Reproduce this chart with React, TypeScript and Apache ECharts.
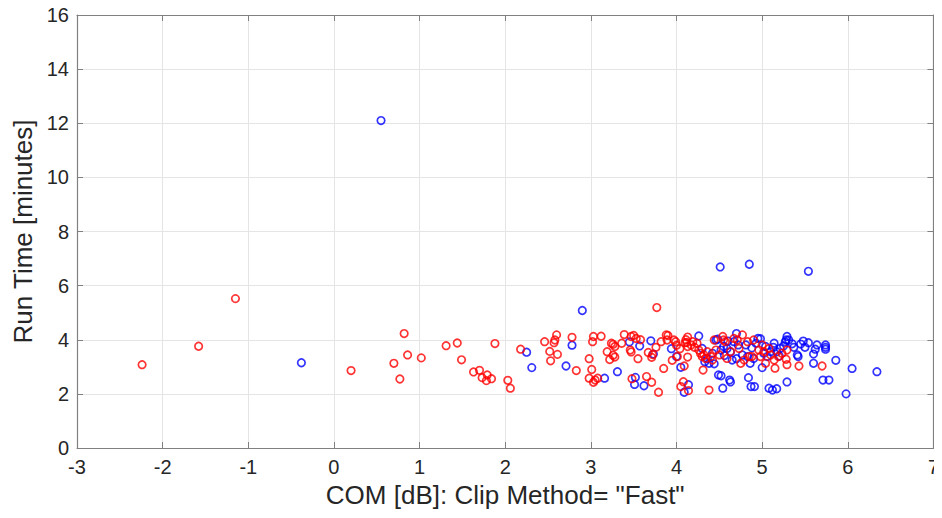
import React, { useEffect, useRef } from "react";
import * as echarts from "echarts";

const xTicks = [-3, -2, -1, 0, 1, 2, 3, 4, 5, 6, 7];
const yTicks = [0, 2, 4, 6, 8, 10, 12, 14, 16];

const bluePoints: [number, number][] = [
  [0.55, 12.1], [-0.38, 3.15],
  [3.94, 3.67], [4.0, 3.38], [4.26, 4.14], [4.3, 3.68], [4.33, 3.19], [4.38, 3.13], [4.44, 3.11],
  [4.46, 3.99], [4.48, 4.02], [4.52, 3.62], [4.55, 3.75], [4.59, 3.68], [4.63, 3.56], [4.65, 3.25],
  [4.67, 3.93], [4.7, 4.23], [4.72, 3.81], [4.77, 3.44], [4.81, 3.81], [4.83, 3.38], [4.86, 3.13],
  [4.9, 3.31], [4.93, 3.87], [4.95, 4.05], [4.98, 4.04], [5.0, 2.97], [5.04, 3.75], [5.06, 3.38],
  [5.1, 3.56], [5.13, 3.72], [5.14, 3.87], [5.17, 3.56], [5.21, 3.68], [5.25, 3.77], [5.27, 3.92],
  [5.28, 3.99], [5.29, 4.12], [5.31, 3.99], [5.37, 3.72], [5.41, 3.44], [5.42, 3.38], [5.45, 3.84],
  [5.5, 3.72], [5.54, 3.89], [5.6, 3.47], [5.62, 3.65], [5.64, 3.81], [5.74, 3.81], [5.74, 3.72],
  [5.74, 3.65], [5.6, 3.13], [5.86, 3.24], [6.05, 2.94], [6.34, 2.82], [5.98, 2.0], [5.71, 2.51],
  [5.78, 2.51], [5.29, 2.44], [5.08, 2.21], [5.12, 2.14], [5.17, 2.19], [4.87, 2.27], [4.91, 2.27],
  [4.84, 2.6], [4.62, 2.51], [4.63, 2.44], [4.49, 2.7], [4.52, 2.67], [4.54, 2.21], [4.14, 2.34],
  [4.09, 2.06], [4.05, 2.98], [3.7, 3.96], [3.73, 3.47], [3.62, 2.3], [3.57, 3.77], [3.51, 2.35],
  [3.52, 2.61], [3.45, 3.92], [3.31, 2.82], [3.16, 2.58], [2.78, 3.8], [2.71, 3.03], [2.31, 2.97],
  [2.25, 3.54], [2.9, 5.08], [4.51, 6.69], [4.85, 6.79], [5.54, 6.53],
  [4.36, 3.3], [4.42, 3.5], [4.56, 3.42], [4.7, 3.3], [4.6, 3.95], [4.88, 3.7], [5.02, 3.5],
  [5.2, 3.4], [5.35, 3.85], [5.48, 3.95],
];

const redPoints: [number, number][] = [
  [-2.24, 3.08], [-1.58, 3.76], [-1.15, 5.52], [0.2, 2.86], [0.7, 3.13], [0.82, 4.23], [0.77, 2.55],
  [0.86, 3.44], [1.02, 3.33], [1.31, 3.78], [1.44, 3.88], [1.49, 3.26],
  [1.88, 3.86], [1.63, 2.81], [1.7, 2.87], [1.73, 2.6], [1.79, 2.7], [1.78, 2.49], [1.84, 2.56],
  [2.03, 2.5], [2.06, 2.21], [2.18, 3.65], [2.46, 3.93], [2.52, 3.57], [2.53, 3.22], [2.57, 3.89],
  [2.58, 3.99], [2.6, 4.18], [2.61, 3.46], [2.78, 4.09], [2.83, 2.86], [2.98, 3.3], [3.01, 2.9],
  [2.98, 2.58], [3.02, 3.93], [3.03, 4.12], [3.03, 2.43], [3.05, 2.51], [3.08, 2.58], [3.12, 4.13],
  [3.19, 3.56], [3.22, 3.27], [3.24, 3.87], [3.26, 3.83], [3.28, 3.75], [3.26, 3.43], [3.28, 3.36],
  [3.36, 3.87], [3.39, 4.19], [3.47, 4.12], [3.5, 4.16], [3.46, 3.62], [3.47, 3.55], [3.48, 2.56],
  [3.53, 4.05], [3.58, 4.0], [3.55, 3.3], [3.65, 2.64], [3.67, 3.53], [3.71, 2.43], [3.71, 3.35],
  [3.72, 3.45], [3.76, 3.72], [3.77, 5.19], [3.79, 2.06], [3.82, 3.93], [3.85, 2.94], [3.88, 4.18],
  [3.9, 4.16], [3.89, 3.99], [3.95, 3.24], [3.97, 3.99], [3.99, 3.93], [4.0, 3.8], [4.01, 3.38],
  [4.04, 3.67], [4.09, 3.03], [4.05, 2.27], [4.08, 2.45], [4.14, 2.12], [4.13, 3.36], [4.11, 4.0],
  [4.13, 4.1], [4.12, 3.9], [4.31, 2.88], [4.38, 2.14], [4.77, 4.18], [5.15, 2.95], [5.29, 3.08],
  [5.43, 3.03], [5.7, 3.03],
  [4.1, 3.89], [4.13, 3.75], [4.17, 3.81], [4.19, 3.93], [4.21, 3.72], [4.24, 3.87], [4.26, 3.62],
  [4.28, 3.5], [4.3, 3.38], [4.32, 3.44], [4.34, 3.31], [4.36, 3.56], [4.4, 3.38], [4.42, 3.25],
  [4.44, 3.99], [4.46, 3.62], [4.5, 3.44], [4.54, 4.12], [4.55, 3.99], [4.57, 3.93], [4.59, 3.31],
  [4.63, 3.56], [4.67, 4.05], [4.71, 3.99], [4.73, 3.68], [4.75, 3.13], [4.79, 3.25], [4.83, 3.93],
  [4.85, 3.38], [4.88, 3.38], [4.9, 3.99], [4.96, 3.62], [4.98, 3.38], [5.0, 3.81], [5.02, 3.56],
  [5.04, 3.13], [5.08, 3.68], [5.1, 3.44], [5.14, 3.25], [5.19, 3.38], [5.23, 3.5], [5.28, 3.28],
  [5.29, 3.62],
];

const xTitle = 'COM [dB]: Clip Method= "Fast"';
const yTitle = "Run Time [minutes]";

export default function App() {
  const ref = useRef<HTMLDivElement>(null);
  useEffect(() => {
    if (!ref.current) return;
    const chart = echarts.init(ref.current, null, { renderer: "svg" });
    const font = "'Liberation Sans', Arial, Helvetica, sans-serif";
    const axisColor = "#808080";
    const textColor = "#262626";
    const common = {
      min: xTicks[0],
      max: xTicks[xTicks.length - 1],
      interval: 1,
    };
    const yCommon = {
      min: yTicks[0],
      max: yTicks[yTicks.length - 1],
      interval: 2,
    };
    const tick = { show: true, inside: true, length: 6, lineStyle: { color: axisColor } };
    const line = { show: true, onZero: false, lineStyle: { color: axisColor, width: 1.2 } };
    chart.setOption({
      animation: false,
      backgroundColor: "#ffffff",
      grid: {
        left: 77,
        right: 5,
        top: 15,
        bottom: 70,
        show: false,
      },
      xAxis: [
        {
          type: "value",
          ...common,
          position: "bottom",
          name: xTitle,
          nameLocation: "middle",
          nameGap: 33,
          nameTextStyle: { fontFamily: font, fontSize: 26, color: textColor },
          axisLine: line,
          axisTick: tick,
          axisLabel: { fontFamily: font, fontSize: 20, color: textColor, margin: 9 },
          splitLine: { show: true, lineStyle: { color: "#e5e5e5", width: 1 } },
        },
        {
          type: "value",
          ...common,
          position: "top",
          axisLine: line,
          axisTick: tick,
          axisLabel: { show: false },
          splitLine: { show: false },
        },
      ],
      yAxis: [
        {
          type: "value",
          ...yCommon,
          position: "left",
          name: yTitle,
          nameLocation: "middle",
          nameGap: 40,
          nameRotate: 90,
          nameTextStyle: { fontFamily: font, fontSize: 26, color: textColor },
          axisLine: line,
          axisTick: tick,
          axisLabel: { fontFamily: font, fontSize: 20, color: textColor, margin: 8 },
          splitLine: { show: true, lineStyle: { color: "#e5e5e5", width: 1 } },
        },
        {
          type: "value",
          ...yCommon,
          position: "right",
          axisLine: line,
          axisTick: tick,
          axisLabel: { show: false },
          splitLine: { show: false },
        },
      ],
      series: [
        {
          type: "scatter",
          xAxisIndex: 0,
          yAxisIndex: 0,
          data: bluePoints,
          symbol: "circle",
          symbolSize: 7.5,
          itemStyle: { color: "rgba(0,0,0,0)", borderColor: "#0000ff", borderWidth: 1.7 },
        },
        {
          type: "scatter",
          xAxisIndex: 0,
          yAxisIndex: 0,
          data: redPoints,
          symbol: "circle",
          symbolSize: 7.5,
          itemStyle: { color: "rgba(0,0,0,0)", borderColor: "#ff0000", borderWidth: 1.7 },
        },
      ],
    });
    return () => chart.dispose();
  }, []);
  return <div ref={ref} style={{ width: 942, height: 518, margin: -8 }} />;
}
